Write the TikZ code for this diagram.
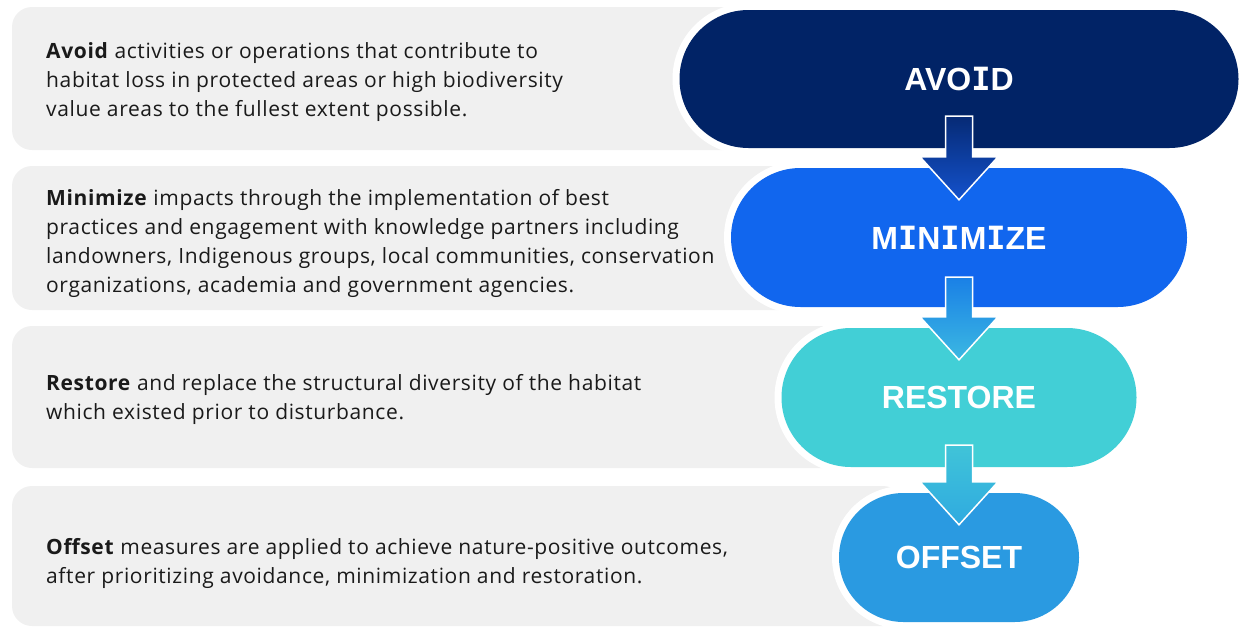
\documentclass[tikz,border=0pt]{standalone}
\usepackage{fontspec}
\setmainfont{Open Sans}[LetterSpace=3]
\newfontfamily\labelfont{Liberation Sans}
\newfontfamily\slabfont{DejaVu Sans Mono}
\newcommand\slabI{{\slabfont\bfseries I}}
\usetikzlibrary{calc,shapes.misc}
\definecolor{avoidc}{HTML}{012366}
\definecolor{minc}{HTML}{1166EE}
\definecolor{restc}{HTML}{42CFD6}
\definecolor{offc}{HTML}{2A9AE1}
\definecolor{panel}{HTML}{F0F0F0}
\definecolor{ink}{HTML}{1A1A1A}
\definecolor{aonetop}{HTML}{062A75}
\definecolor{aonebot}{HTML}{1452CC}
\definecolor{atwotop}{HTML}{1A80E6}
\definecolor{atwobot}{HTML}{3BB8E2}
\definecolor{athrtop}{HTML}{40C4D8}
\definecolor{athrbot}{HTML}{2FAAE0}
\newcommand\flowarrow[5]{%
  \draw[flowarr, top color=#4, bottom color=#5]
    ($(#1.south)+(-13.5,-#3)$) -- ($(#1.south)+(13.5,-#3)$)
    -- ($(#2.north)+(13.5,-11)$) -- ($(#2.north)+(39,-11)$)
    -- ($(#2.north)+(0,32)$)
    -- ($(#2.north)+(-39,-11)$) -- ($(#2.north)+(-13.5,-11)$) -- cycle;}
\begin{document}
\begin{tikzpicture}[x=1pt,y=-1pt,
  panelbox/.style={fill=panel, rounded corners=20pt},
  pill/.style={rounded rectangle, fill=#1, preaction={draw=white, line width=14pt},
    text=white, font=\labelfont\bfseries\fontsize{32}{32}\selectfont, inner sep=0pt},
  desc/.style={anchor=west, align=left, text=ink, font=\fontsize{21}{29}\selectfont, inner sep=0pt},
  flowarr/.style={draw=white, line width=1.5pt, line join=miter}
]
\useasboundingbox (0,0) rectangle (1239,627);
% background panels
\fill[panelbox] (12,7) rectangle (747,150);
\fill[panelbox] (12,166) rectangle (801,310);
\fill[panelbox] (12,326) rectangle (851,468);
\fill[panelbox] (12,486) rectangle (903,626);
% descriptions
\node[desc] (tavoid) at (46,82) {\textbf{Avoid} activities or operations that contribute to\\habitat loss in protected areas or high biodiversity\\value areas to the fullest extent possible.};
\node[desc] (tmin) at (46,243) {\textbf{Minimize} impacts through the implementation of best\\practices and engagement with knowledge partners including\\landowners, Indigenous groups, local communities, conservation\\organizations, academia and government agencies.};
\node[desc] (trest) at (46,399.5) {\textbf{Restore} and replace the structural diversity of the habitat\\which existed prior to disturbance.};
\node[desc] (toff) at (46,563) {\textbf{Offset} measures are applied to achieve nature-positive outcomes,\\after prioritizing avoidance, minimization and restoration.};
% pills
\node[pill=avoidc, minimum width=559pt, minimum height=138pt] (avoid) at (959,79) {AVO\slabI D};
\node[pill=minc, minimum width=456pt, minimum height=139pt] (minimize) at (959,237.5) {M\slabI N\slabI M\slabI ZE};
\node[pill=restc, minimum width=355pt, minimum height=139pt] (restore) at (959,397.5) {RESTORE};
\node[pill=offc, minimum width=240pt, minimum height=129pt] (offset) at (959,557.5) {OFFSET};
% arrows
\flowarrow{avoid}{minimize}{32}{aonetop}{aonebot}
\flowarrow{minimize}{restore}{30}{atwotop}{atwobot}
\flowarrow{restore}{offset}{22}{athrtop}{athrbot}
\end{tikzpicture}
\end{document}
